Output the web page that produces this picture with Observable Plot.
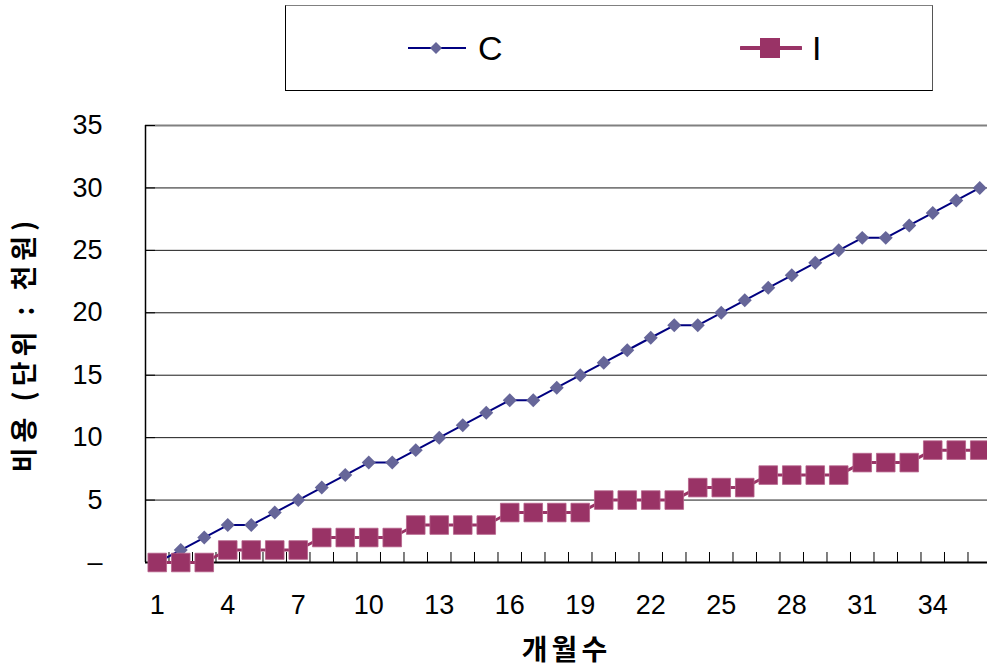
<!DOCTYPE html>
<html>
<head>
<meta charset="utf-8">
<script src="https://cdn.jsdelivr.net/npm/d3@7"></script>
<script src="https://cdn.jsdelivr.net/npm/@observablehq/plot@0.6"></script>
<style>
  html, body { margin: 0; padding: 0; background: #fff; }
  #wrap { position: relative; width: 987px; height: 668px; overflow: hidden; }
  #legend {
    position: absolute; left: 285px; top: 5px; width: 646px; height: 84px;
    border: 1px solid #000; border-top-color: #808080; border-right-color: #555; box-sizing: content-box;
    background: #fff;
  }
  .item { position: absolute; top: 0; height: 84px; display: flex; align-items: center;
    font-family: "Liberation Sans", Arial, sans-serif; font-size: 34px; color: #000; }
  .ytitle { letter-spacing: 5px; }
  .xtitle { letter-spacing: 4px; }
</style>
</head>
<body>
<div id="wrap"></div>
<script>
// ---- data ----
const months = [1,2,3,4,5,6,7,8,9,10,11,12,13,14,15,16,17,18,19,20,21,22,23,24,25,26,27,28,29,30,31,32,33,34,35,36];
const seriesC = [0,1,2,3,3,4,5,6,7,8,8,9,10,11,12,13,13,14,15,16,17,18,19,19,20,21,22,23,24,25,26,26,27,28,29,30];
const seriesI = [0,0,0,1,1,1,1,2,2,2,2,3,3,3,3,4,4,4,4,5,5,5,5,6,6,6,7,7,7,7,8,8,8,9,9,9];
const xTickLabels = [1,4,7,10,13,16,19,22,25,28,31,34];
const yTicks = [0,5,10,15,20,25,30,35];
const seriesNames = ["C", "I"];
const xTitle = "개월수";
const yTitle = "비용 (단위 : 천원)";

const colC = "#000080", colCMark = "#666699", colI = "#993366";

const rowsC = months.map((m, k) => ({m, v: seriesC[k]}));
const rowsI = months.map((m, k) => ({m, v: seriesI[k]}));
const boundaries = [0.5, ...months.map(m => m + 0.5)];
const grid = yTicks.filter(t => t > 0 && t < 35);

const numFont = "'Liberation Sans', Arial, sans-serif";
const krFont = "'Noto Sans CJK KR', 'Noto Sans', sans-serif";

const chart = Plot.plot({
  width: 987,
  height: 668,
  marginLeft: 145,
  marginRight: 0,
  marginTop: 125,
  marginBottom: 106,
  style: {background: "#fff", overflow: "visible"},
  x: {domain: [0.5, 36.33], axis: null, label: null},
  y: {domain: [0, 35], axis: null, label: null},
  marks: [
    Plot.ruleY(grid, {stroke: "#1a1a1a", strokeWidth: 1}),
    Plot.ruleY([35], {stroke: "#808080", strokeWidth: 2}),
    Plot.ruleY(yTicks, {x1: 0.5, x2: 0.5 + 10/23.5, stroke: "#000", strokeWidth: 1}),
    Plot.ruleX(boundaries, {y1: 0, y2: 0.8, stroke: "#000", strokeWidth: 1}),
    Plot.ruleX([0.5], {y1: 0, y2: 35, stroke: "#000", strokeWidth: 1.5}),
    Plot.ruleY([0], {stroke: "#000", strokeWidth: 2}),
    Plot.axisX(xTickLabels, {tickSize: 0, tickPadding: 32, fontSize: 27, fontFamily: numFont, fill: "#000", label: null}),
    Plot.axisY(yTicks, {tickSize: 0, tickPadding: 43, fontSize: 27, fontFamily: numFont, fill: "#000", label: null,
      tickFormat: d => d === 0 ? "–" : String(d)}),
    Plot.line(rowsC, {x: "m", y: "v", stroke: colC, strokeWidth: 2}),
    Plot.dot(rowsC, {x: "m", y: "v", symbol: "diamond2", r: 6.3, fill: colCMark, stroke: "none"}),
    Plot.line(rowsI, {x: "m", y: "v", stroke: colI, strokeWidth: 3}),
    Plot.dot(rowsI, {x: "m", y: "v", symbol: "square", r: 10.5, fill: colI, stroke: "#b5628a", strokeWidth: 0.8}),
    Plot.text([yTitle], {frameAnchor: "left", dx: -120, rotate: -90, fontSize: 27, fontWeight: "bold", fontFamily: krFont, fill: "#000", textAnchor: "middle", className: "ytitle"}),
    Plot.text([xTitle], {frameAnchor: "bottom", dy: 97, fontSize: 28, fontWeight: "bold", fontFamily: krFont, fill: "#000", className: "xtitle"})
  ]
});

const wrap = document.getElementById("wrap");
wrap.appendChild(chart);
chart.style.position = "absolute";
chart.style.left = "0px";
chart.style.top = "0px";

// legend
const legend = document.createElement("div");
legend.id = "legend";
legend.innerHTML = `
  <div class="item" style="left:121px">
    <svg width="60" height="20" style="margin-right:11px"><line x1="1" x2="59" y1="10" y2="10" stroke="${colC}" stroke-width="2"/>
      <path d="M29,4 L35,10 L29,16 L23,10 Z" fill="${colCMark}"/></svg>${seriesNames[0]}
  </div>
  <div class="item" style="left:454px">
    <svg width="62" height="24" style="margin-right:10px"><line x1="1" x2="61" y1="12" y2="12" stroke="${colI}" stroke-width="4" stroke-linecap="round"/>
      <rect x="20" y="2" width="20" height="20" fill="${colI}"/></svg>${seriesNames[1]}
  </div>`;
wrap.appendChild(legend);
</script>
</body>
</html>
